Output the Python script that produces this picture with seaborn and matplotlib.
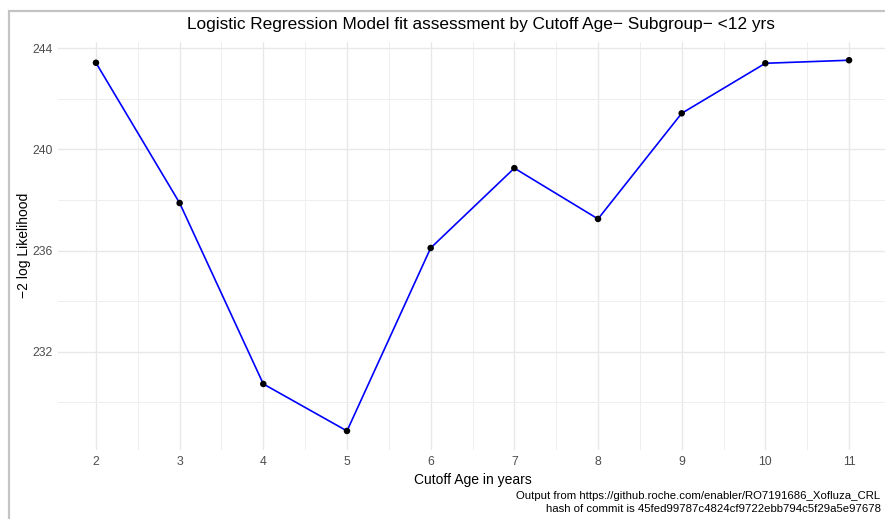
import matplotlib
matplotlib.use("Agg")
import matplotlib.pyplot as plt
import seaborn as sns
import pandas as pd
import numpy as np
from matplotlib.patches import Rectangle

# Cutoff ages and the model fit statistic (-2 log likelihood) for each
cutoff_age = [2, 3, 4, 5, 6, 7, 8, 9, 10, 11]
neg2_loglik = [243.43, 237.88, 230.72, 228.86, 236.10, 239.26, 237.25, 241.43, 243.41, 243.53]
y_ticks = [232, 236, 240, 244]
y_minor = [230, 234, 238, 242]

title = "Logistic Regression Model fit assessment by Cutoff Age\u2212 Subgroup\u2212 <12 yrs"
x_label = "Cutoff Age in years"
y_label = "\u22122 log Likelihood"
caption_1 = "Output from https://github.roche.com/enabler/RO7191686_Xofluza_CRL"
caption_2 = "hash of commit is 45fed99787c4824cf9722ebb794c5f29a5e97678"

df = pd.DataFrame({"age": cutoff_age, "ll": neg2_loglik})

sns.set_theme(style="white")
plt.rcParams["font.family"] = ["Liberation Sans", "DejaVu Sans"]

W, H = 885, 519
fig = plt.figure(figsize=(W / 100, H / 100), dpi=100)

# page border
fig.add_artist(Rectangle((9 / W, -0.1), 1.2, (1 - 11 / H) + 0.1, transform=fig.transFigure,
                         fill=False, edgecolor="#c4c4c4", linewidth=1.6))

# panel in pixel coordinates
left, right, top, bottom = 58.3, 886.7, 41.7, 449.5
ax = fig.add_axes([left / W, 1 - bottom / H, (right - left) / W, (bottom - top) / H])

sns.lineplot(data=df, x="age", y="ll", ax=ax, color="#0000ff", linewidth=1.2, zorder=3)
sns.scatterplot(data=df, x="age", y="ll", ax=ax, color="black", s=22, edgecolor="none", zorder=4)

xmin, xmax = min(cutoff_age), max(cutoff_age)
ymin, ymax = min(neg2_loglik), max(neg2_loglik)
xe = 0.05 * (xmax - xmin)
ye = 0.05 * (ymax - ymin)
ax.set_xlim(xmin - xe, xmax + xe)
ax.set_ylim(ymin - ye, ymax + ye)

ax.set_xticks(cutoff_age)
ax.set_xticks(np.array(cutoff_age[:-1]) + 0.5, minor=True)
ax.set_yticks(y_ticks)
ax.set_yticks(y_minor, minor=True)

ax.grid(True, which="major", color="#e8e8e8", linewidth=1.0)
ax.grid(True, which="minor", color="#eeeeee", linewidth=0.7)
ax.set_axisbelow(True)
for s in ax.spines.values():
    s.set_visible(False)
ax.tick_params(which="both", length=0)
ax.tick_params(axis="both", labelsize=8.8, labelcolor="#4d4d4d")
ax.tick_params(axis="y", pad=4)
ax.tick_params(axis="x", pad=5)

ax.set_xlabel(x_label, fontsize=10, color="black", labelpad=3)
ax.set_ylabel(y_label, fontsize=10, color="black", labelpad=1)

fig.text(481 / W, 1 - 25 / H, title, ha="center", va="center", fontsize=12.4, color="black")
fig.text(516 / W, 1 - 496 / H, caption_1, ha="left", va="center", fontsize=8.2, color="black")
fig.text(546 / W, 1 - 509 / H, caption_2, ha="left", va="center", fontsize=8.2, color="black")

fig.savefig("out.png", dpi=100)
